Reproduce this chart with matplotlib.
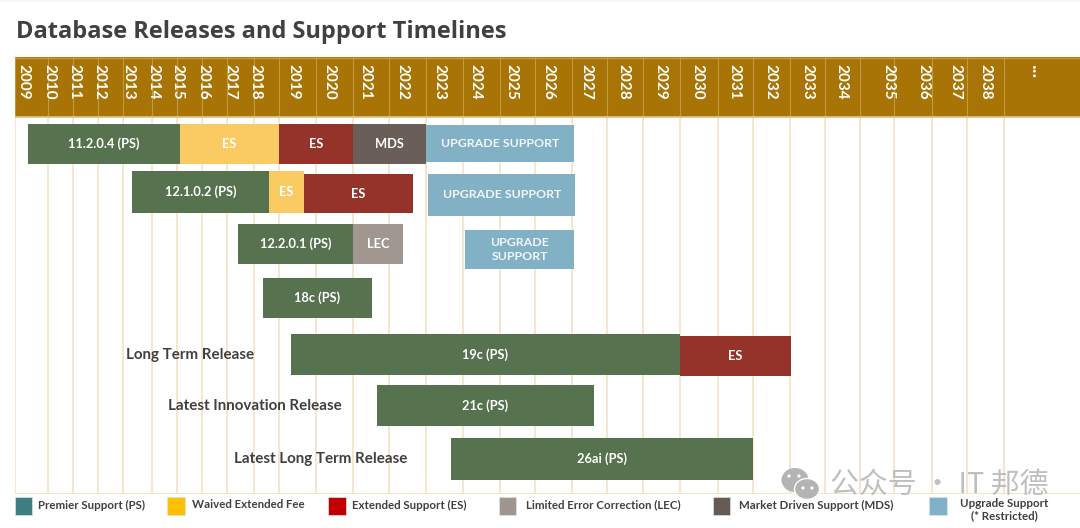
import numpy as np
import matplotlib
matplotlib.use("Agg")
import matplotlib.pyplot as plt
from matplotlib.patches import Ellipse, Rectangle

# timeline years and where each one sits on the (uneven) slide axis
years = [2009, 2010, 2011, 2012, 2013, 2014, 2015, 2016, 2017, 2018, 2019, 2020, 2021, 2022, 2023, 2024,
         2025, 2026, 2027, 2028, 2029, 2030, 2031, 2032, 2033, 2034, 2035, 2036, 2037, 2038, 2039, 2040]
year_px = [14.8, 47.5, 72.7, 97.8, 122.6, 151.5, 176.7, 201.8, 226.6, 253.8, 278.6, 316, 352.6, 388.8, 426.3, 462.8,
           499.7, 535, 571.7, 606.8, 643.3, 679.8, 717.7, 753, 790.3, 825, 859.6, 894, 931.5, 967.3, 1004.2, 1080]
year_labels = [str(y) for y in years[:30]] + ["..."]
year_label_px = [23.4, 49, 74, 99, 128, 153, 177, 203, 230, 255, 293, 329, 365, 402, 439, 475,
                 511, 548.6, 586.5, 623.7, 660.5, 697.7, 734.6, 770.7, 807, 841, 888, 923, 955, 985, 1037]

bar_names = ["11.2.0.4 (PS)", "ES", "ES", "MDS", "UPGRADE SUPPORT",
             "12.1.0.2 (PS)", "ES", "ES", "UPGRADE SUPPORT",
             "12.2.0.1 (PS)", "LEC", "UPGRADE\nSUPPORT",
             "18c (PS)", "19c (PS)", "ES", "21c (PS)", "26ai (PS)"]
bar_start = [2009.40, 2015.13, 2019.01, 2021.01, 2023.0,
             2013.33, 2018.61, 2019.68, 2023.05,
             2017.42, 2021.01, 2024.06,
             2018.37, 2019.33, 2030.0, 2021.67, 2023.68]
bar_end = [2015.13, 2019.01, 2021.01, 2023.0, 2027.07,
           2018.61, 2019.68, 2022.65, 2027.1,
           2021.01, 2022.38, 2027.07,
           2021.54, 2030.0, 2033.02, 2027.64, 2032.0]
bar_top = [124, 124, 124, 124, 125, 171, 171, 174, 174, 224, 224, 230, 278, 334, 336, 385, 438]
bar_bottom = [164, 164, 164, 164, 162, 213, 213, 213, 216, 264, 264, 269, 318, 375, 376, 426, 480]
bar_kind = ["PS", "WAIVED", "ES", "MDS", "UP", "PS", "WAIVED", "ES", "UP", "PS", "LEC", "UP", "PS", "PS", "ES", "PS", "PS"]

colors = {"PS": "#57724f", "WAIVED": "#fbcb63", "ES": "#95332a", "MDS": "#6a5f58", "LEC": "#a09890", "UP": "#82b0c4"}

side_labels = ["Long Term Release", "Latest Innovation Release", "Latest Long Term Release"]
side_x = [190, 254.5, 320.5]
side_y = [355.5, 406, 458.5]

legend_labels = ["Premier Support (PS)", "Waived Extended Fee", "Extended Support (ES)",
                 "Limited Error Correction (LEC)", "Market Driven Support (MDS)", "Upgrade Support\n(* Restricted)"]
legend_colors = ["#3f7f7f", "#ffc000", "#c00000", "#a0968f", "#665a52", "#7fb2c8"]
legend_x = [14.5, 167, 328, 498.5, 712.5, 929]
legend_text_x = [38, 192, 351.5, 526, 739, 1004]

band_color = "#a87406"
grid_color = "#f3e3c4"
text_dark = "#404040"
font = "Lato"

fig = plt.figure(figsize=(10.8, 5.28), dpi=100)

# main axes: x in years through the uneven scale, y in slide rows
ax = fig.add_axes([14.8 / 1080, 1 - 494 / 528, (1080 - 14.8) / 1080, (494 - 57) / 528])
ax.set_xscale("function", functions=(lambda v: np.interp(v, years, year_px),
                                     lambda v: np.interp(v, year_px, years)))
ax.set_xlim(2009, 2040)
ax.set_ylim(494, 57)
for s in ax.spines.values():
    s.set_visible(False)
ax.set_xticks([])
ax.set_yticks([])

ax.axhspan(57, 117, color=band_color, lw=0, zorder=1)
for y in years[:-1]:
    ax.plot([y, y], [117, 494], color=grid_color, lw=1.2, zorder=1)
    ax.plot([y, y], [57, 117], color="#c39a3e", lw=0.8, zorder=2)
ax.plot([2009, 2040], [117, 117], color="#dcc48a", lw=1.2, zorder=2)
ax.plot([2009, 2040], [57.5, 57.5], color="#c39a3e", lw=1, zorder=2)
ax.plot([2009, 2040], [494, 494], color=grid_color, lw=1.3, zorder=1)

for i in range(len(bar_names)):
    ax.fill_between([bar_start[i], bar_end[i]], bar_top[i], bar_bottom[i], color=colors[bar_kind[i]], lw=0, zorder=3)
    mid = np.interp((np.interp(bar_start[i], years, year_px) + np.interp(bar_end[i], years, year_px)) / 2, year_px, years)
    upgrade = bar_kind[i] == "UP"
    ax.text(mid, (bar_top[i] + bar_bottom[i]) / 2, bar_names[i], color="#f2f7f9" if upgrade else "white",
            ha="center", va="center", fontsize=8.9 if upgrade else 9.3,
            fontweight="bold", family=font, linespacing=1.3, zorder=4)

# overlay in picture pixels for title, header labels, legend and watermark
ov = fig.add_axes([0, 0, 1, 1], facecolor="none")
ov.set_xlim(0, 1080)
ov.set_ylim(528, 0)
ov.axis("off")

ov.add_patch(Rectangle((0, 0), 1080, 2, color="#f7f7f5", lw=0))
ov.text(16, 32, "Database Releases and Support Timelines", fontsize=17.0, fontweight="bold",
        family="Open Sans", color=text_dark, va="center", ha="left")

for x, lab in zip(year_label_px, year_labels):
    size = 14 if lab == "..." else 11
    ov.text(x, 64, lab, rotation=-90, color="white", ha="center", va="top", fontsize=size,
            family=font, fontweight="bold")

for x, y, lab in zip(side_x, side_y, side_labels):
    ov.text(x, y, lab, color=text_dark, ha="center", va="center", fontsize=10.9, fontweight="bold", family=font)

for i, lab in enumerate(legend_labels):
    ov.add_patch(Rectangle((legend_x[i], 497), 17.5, 18, facecolor=legend_colors[i], edgecolor="#d8e4e4", lw=0.5))
    last = i == len(legend_labels) - 1
    ov.text(legend_text_x[i], 510 if last else 505, lab, color=text_dark, fontsize=8.3, fontweight="bold", family=font,
            ha="center" if last else "left", va="center", linespacing=1.15)

# watermark
wm = "#b4b4b4"
ov.add_patch(Ellipse((795, 480), 27, 24, color=wm, lw=0))
ov.add_patch(Ellipse((807, 489), 25, 21, facecolor=wm, edgecolor="white", lw=1))
for ex, ey in [(789, 476), (799, 476), (803, 488), (812, 488)]:
    ov.add_patch(Ellipse((ex, ey), 3.2, 3.2, color="white", lw=0))
ov.text(830, 485, "公众号 · IT 邦德", color="#b8b8b8", fontsize=20.8, va="center", ha="left",
        family=["Noto Sans CJK SC", "DejaVu Sans"], alpha=0.9)

fig.savefig("out.png", dpi=100)
